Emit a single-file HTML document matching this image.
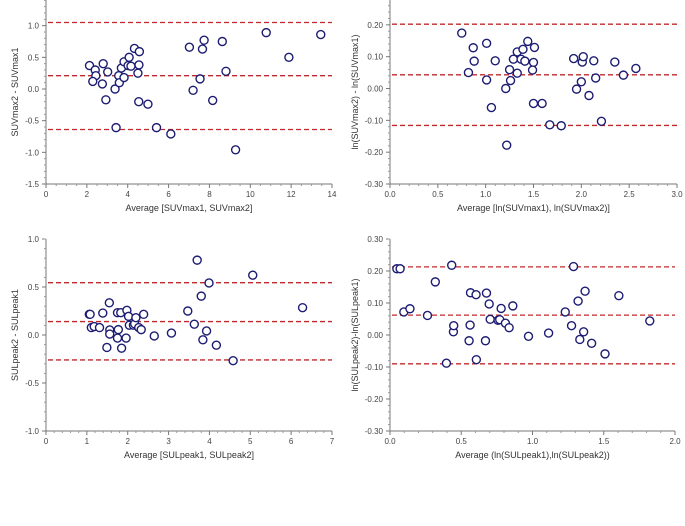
<!DOCTYPE html>
<html><head><meta charset="utf-8"><style>
body{margin:0;background:#fff;}
svg{display:block;font-family:"Liberation Sans",sans-serif;}
</style></head><body>
<svg id="chart" width="685" height="526" viewBox="0 0 685 526"></svg>
<script>
const p1X=[2.13,2.41,2.44,2.29,2.80,2.76,3.02,2.93,3.38,3.43,3.56,3.59,3.69,3.82,3.82,4.02,4.16,4.07,4.33,4.57,4.55,4.50,4.54,4.99,5.41,6.11,7.02,7.20,7.54,7.66,7.74,8.16,8.63,8.81,9.28,10.78,11.89,13.45];
const p1Y=[0.37,0.30,0.21,0.12,0.40,0.08,0.27,-0.17,0.0,-0.61,0.21,0.10,0.33,0.43,0.18,0.37,0.36,0.50,0.64,0.59,0.38,0.25,-0.20,-0.24,-0.61,-0.71,0.66,-0.02,0.16,0.63,0.77,-0.18,0.75,0.28,-0.96,0.89,0.50,0.86];
const p1Lines=[1.05,0.21,-0.64];
const p2X=[0.75,0.82,0.87,0.88,1.01,1.01,1.06,1.10,1.21,1.22,1.25,1.26,1.29,1.33,1.33,1.37,1.39,1.41,1.44,1.51,1.50,1.49,1.50,1.59,1.67,1.79,1.92,1.95,2.01,2.02,2.0,2.08,2.13,2.15,2.21,2.35,2.44,2.57];
const p2Y=[0.174,0.05,0.128,0.086,0.142,0.027,-0.06,0.087,0.0,-0.178,0.059,0.025,0.092,0.115,0.048,0.092,0.123,0.086,0.148,0.129,0.082,0.058,-0.047,-0.047,-0.114,-0.117,0.094,-0.002,0.083,0.10,0.021,-0.022,0.087,0.033,-0.103,0.083,0.042,0.063];
const p2Lines=[0.202,0.043,-0.116];
const p3X=[1.06,1.08,1.11,1.18,1.31,1.39,1.49,1.55,1.56,1.56,1.75,1.75,1.77,1.83,1.85,1.96,1.98,2.02,2.04,2.14,2.17,2.20,2.27,2.33,2.39,2.65,3.07,3.47,3.63,3.70,3.80,3.84,3.93,3.99,4.17,4.58,5.06,6.28];
const p3Y=[0.215,0.215,0.077,0.088,0.077,0.229,-0.13,0.335,0.053,0.01,0.232,-0.032,0.056,0.232,-0.137,-0.032,0.257,0.194,0.102,0.102,0.116,0.18,0.077,0.056,0.215,-0.01,0.02,0.25,0.113,0.78,0.405,-0.05,0.042,0.542,-0.106,-0.268,0.623,0.285];
const p3Lines=[0.545,0.14,-0.26];
const p4X=[0.048,0.071,0.097,0.14,0.263,0.318,0.396,0.433,0.445,0.447,0.555,0.562,0.565,0.604,0.606,0.67,0.677,0.696,0.703,0.758,0.77,0.78,0.81,0.836,0.862,0.972,1.113,1.23,1.274,1.288,1.32,1.332,1.359,1.369,1.415,1.509,1.606,1.823];
const p4Y=[0.207,0.207,0.072,0.082,0.061,0.166,-0.088,0.218,0.01,0.029,-0.018,0.031,0.132,0.126,-0.077,-0.018,0.131,0.097,0.049,0.046,0.048,0.083,0.037,0.023,0.091,-0.004,0.006,0.072,0.029,0.214,0.106,-0.014,0.01,0.137,-0.026,-0.059,0.123,0.044];
const p4Lines=[0.213,0.062,-0.09];
const p1XTicks=["0","2","4","6","8","10","12","14"];
const p1YTicks=["-1.5","-1.0","-0.5","0.0","0.5","1.0"];
const p2XTicks=["0.0","0.5","1.0","1.5","2.0","2.5","3.0"];
const p2YTicks=["-0.30","-0.20","-0.10","0.00","0.10","0.20"];
const p3XTicks=["0","1","2","3","4","5","6","7"];
const p3YTicks=["-1.0","-0.5","0.0","0.5","1.0"];
const p4XTicks=["0.0","0.5","1.0","1.5","2.0"];
const p4YTicks=["-0.30","-0.20","-0.10","0.00","0.10","0.20","0.30"];

const NS="http://www.w3.org/2000/svg";
const svg=document.getElementById('chart');
function mk(tag,attrs,parent){const e=document.createElementNS(NS,tag);for(const k in attrs)e.setAttribute(k,attrs[k]);(parent||svg).appendChild(e);return e;}

const panels=[
 {n:'p1',xs:p1X,ys:p1Y,lines:p1Lines,xt:p1XTicks,yt:p1YTicks,xmin:0,xmax:14,ymin:-1.5,ymax:1.5,px0:46,px1:332,py0:184,py1:-6,xminor:4,yminor:5,xt2:"Average [SUVmax1, SUVmax2]",yt2:"SUVmax2 - SUVmax1",ytx:18},
 {n:'p2',xs:p2X,ys:p2Y,lines:p2Lines,xt:p2XTicks,yt:p2YTicks,xmin:0,xmax:3,ymin:-0.3,ymax:0.3,px0:390,px1:677,py0:184,py1:-7,xminor:5,yminor:5,xt2:"Average [ln(SUVmax1), ln(SUVmax2)]",yt2:"ln(SUVmax2) - ln(SUVmax1)",ytx:358},
 {n:'p3',xs:p3X,ys:p3Y,lines:p3Lines,xt:p3XTicks,yt:p3YTicks,xmin:0,xmax:7,ymin:-1,ymax:1,px0:46,px1:332,py0:431,py1:239,xminor:5,yminor:5,xt2:"Average [SULpeak1, SULpeak2]",yt2:"SULpeak2 - SULpeak1",ytx:18},
 {n:'p4',xs:p4X,ys:p4Y,lines:p4Lines,xt:p4XTicks,yt:p4YTicks,xmin:0,xmax:2,ymin:-0.3,ymax:0.3,px0:390,px1:675,py0:431,py1:239,xminor:5,yminor:5,xt2:"Average (ln(SULpeak1),ln(SULpeak2))",yt2:"ln(SULpeak2)-ln(SULpeak1)",ytx:358}
];
panels.forEach(P=>{
 const g=mk('g',{});
 
 
 const sx=v=>P.px0+(v-P.xmin)/(P.xmax-P.xmin)*(P.px1-P.px0);
 const sy=v=>P.py0+(v-P.ymin)/(P.ymax-P.ymin)*(P.py1-P.py0);
 const top=Math.max(P.py1,0);
 // axes
 const ax=mk('line',{x1:P.px0,y1:P.py0,x2:P.px1,y2:P.py0,stroke:'#777','stroke-width':1},g);
 
 const ay=mk('line',{x1:P.px0,y1:P.py0,x2:P.px0,y2:top,stroke:'#777','stroke-width':1},g);
 
 // x ticks
 const nx=P.xt.length;
 P.xt.forEach((t,i)=>{
  const v=parseFloat(t), x=sx(v);
  mk('line',{x1:x,y1:P.py0,x2:x,y2:P.py0+4,stroke:'#777'},g);
  const tx=mk('text',{x:x,y:P.py0+13,'font-size':8,fill:'#444','text-anchor':'middle'},g);
  tx.textContent=t;
  
  if(i<nx-1){const step=(parseFloat(P.xt[i+1])-v)/P.xminor;
   for(let k=1;k<P.xminor;k++){const xm=sx(v+k*step);mk('line',{x1:xm,y1:P.py0,x2:xm,y2:P.py0+2,stroke:'#999'},g);}}
 });
 // y ticks
 const ny=P.yt.length;
 P.yt.forEach((t,i)=>{
  const v=parseFloat(t), y=sy(v);
  mk('line',{x1:P.px0-4,y1:y,x2:P.px0,y2:y,stroke:'#777'},g);
  const ty=mk('text',{x:P.px0-7,y:y+3,'font-size':8,fill:'#444','text-anchor':'end'},g);
  ty.textContent=t;
  
  const next=i<ny-1?parseFloat(P.yt[i+1]):P.ymax;
  const step=(next-v)/P.yminor;
  for(let k=1;k<P.yminor;k++){const ym=sy(v+k*step);if(ym>=0)mk('line',{x1:P.px0-2,y1:ym,x2:P.px0,y2:ym,stroke:'#999'},g);}
 });
 // reference lines
 P.lines.forEach((v,i)=>{
  const l=mk('line',{x1:P.px0+2,y1:sy(v),x2:P.px1,y2:sy(v),stroke:'#c0282d','stroke-width':1.3,'stroke-dasharray':'5,3'},g);
  
  
 });
 // points
 P.xs.forEach((xv,i)=>{
  const c=mk('circle',{cx:sx(xv),cy:sy(P.ys[i]),r:4,fill:'#fff',stroke:'#1c1c72','stroke-width':1.4},g);
  
  
 });
 const xl=mk('text',{x:(P.px0+P.px1)/2,y:P.py0+27,'font-size':9,fill:'#333','text-anchor':'middle'},g);
 xl.textContent=P.xt2;
 
 const yc=(P.py0+top)/2;
 const yl=mk('text',{x:P.ytx,y:yc,'font-size':9,fill:'#333','text-anchor':'middle',transform:`rotate(-90 ${P.ytx} ${yc})`},g);
 yl.textContent=P.yt2;
 
});
</script>
</body></html>
